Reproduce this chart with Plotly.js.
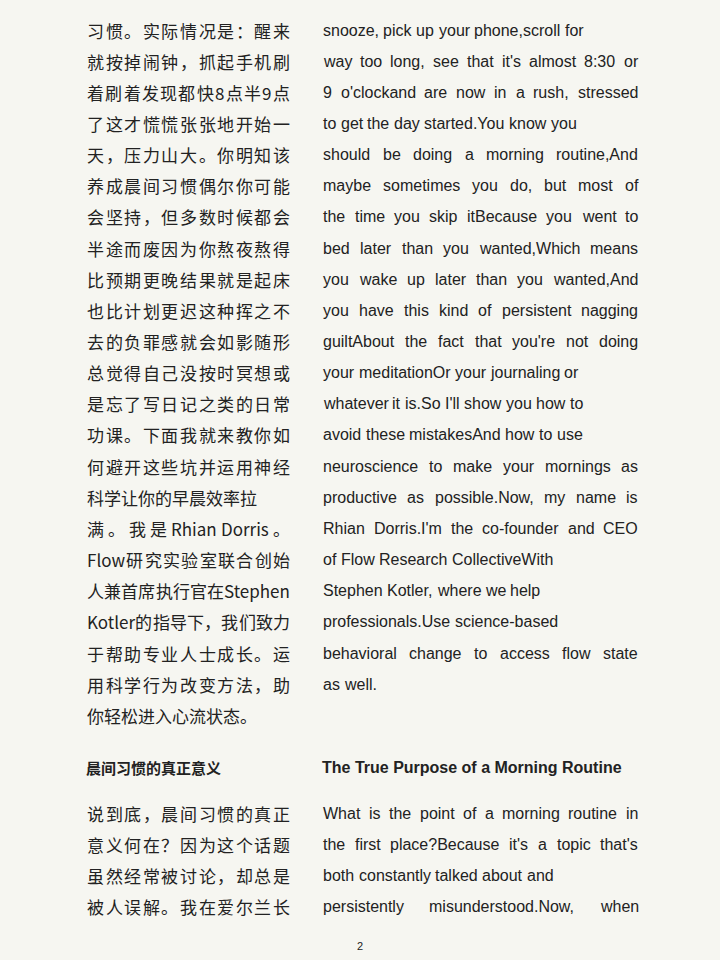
<!DOCTYPE html>
<html>
<head>
<meta charset="utf-8">
<script src="https://cdn.plot.ly/plotly-3.0.1.min.js"></script>
<style>html,body{margin:0;padding:0;background:#f6f6f1;}</style>
</head>
<body>
<div id="plot" style="width:720px;height:960px;"></div>
<script>
// ======================= DATA =======================
const zhBody = ['习惯。实际情况是：醒来','就按掉闹钟，抓起手机刷','着刷着发现都快8点半9点','了这才慌慌张张地开始一','天，压力山大。你明知该','养成晨间习惯偶尔你可能','会坚持，但多数时候都会','半途而废因为你熬夜熬得','比预期更晚结果就是起床','也比计划更迟这种挥之不','去的负罪感就会如影随形','总觉得自己没按时冥想或','是忘了写日记之类的日常','功课。下面我就来教你如','何避开这些坑并运用神经','科学让你的早晨效率拉','满。我是Rhian Dorris。','Flow研究实验室联合创始','人兼首席执行官在Stephen','Kotler的指导下，我们致力','于帮助专业人士成长。运','用科学行为改变方法，助','你轻松进入心流状态。'];
const enBody = ['snooze, pick up your phone,scroll for','way too long, see that it\'s almost 8:30 or','9 o\'clockand are now in a rush, stressed','to get the day started.You know you','should be doing a morning routine,And','maybe sometimes you do, but most of','the time you skip itBecause you went to','bed later than you wanted,Which means','you wake up later than you wanted,And','you have this kind of persistent nagging','guiltAbout the fact that you\'re not doing','your meditationOr your journaling or','whatever it is.So I\'ll show you how to','avoid these mistakesAnd how to use','neuroscience to make your mornings as','productive as possible.Now, my name is','Rhian Dorris.I\'m the co-founder and CEO','of Flow Research CollectiveWith','Stephen Kotler, where we help','professionals.Use science-based','behavioral change to access flow state','as well.'];
const zhHead = '晨间习惯的真正意义';
const enHead = 'The True Purpose of a Morning Routine';
const zhTail = ['说到底，晨间习惯的真正','意义何在？因为这个话题','虽然经常被讨论，却总是','被人误解。我在爱尔兰长'];
const enTail = ['What is the point of a morning routine in','the first place?Because it\'s a topic that\'s','both constantly talked about and','persistently misunderstood.Now, when'];
const pageNo = '2';

// ======================= LAYOUT =======================
const zhFont = {family:'"Noto Sans CJK SC", sans-serif', size:17, color:'#222'};
const enFont = {family:'"Liberation Sans", Arial, sans-serif', size:16, color:'#222'};
const step = 31.15;
const ann = [];
const ctx = document.createElement('canvas').getContext('2d');
function measure(t, f){ ctx.font = f.size+'px '+f.family; return ctx.measureText(t).width; }

// split a line into pieces (words for english, chars + latin runs for chinese)
function tokens(t, zh){
  if(!zh) return t.split(' ').filter(s=>s.length);
  return t.match(/[A-Za-z0-9.]+|\S/g) || [];
}
function addLine(t, x, y, width, font, zh, justify){
  const toks = tokens(t, zh);
  const ws = toks.map(s=>measure(s, font));
  const total = ws.reduce((a,b)=>a+b,0);
  let gap = zh ? 0 : measure(' ', font);
  const natural = total + gap*(toks.length-1);
  if(justify && toks.length>1 && natural > width*0.85 && natural < width*1.05) gap = (width-total)/(toks.length-1);
  let cx = x;
  toks.forEach((s,i)=>{
    ann.push({text:s, x:cx, y:y, xref:'x', yref:'y', xanchor:'left', yanchor:'middle', showarrow:false, font:font});
    cx += ws[i] + gap;
  });
}
function addLines(lines, x, y0, width, font, zh, lastFree){
  lines.forEach((t,i)=>addLine(t, x, y0+i*step, width, font, zh, !(lastFree && i===lines.length-1)));
}
addLines(zhBody, 85, 30, 203, zhFont, true, true);
addLines(enBody, 321, 30, 315, enFont, false, true);
ann.push({text:'<b>'+zhHead+'</b>', x:84, y:767, xref:'x', yref:'y', xanchor:'left', yanchor:'middle', showarrow:false, font:Object.assign({},zhFont,{size:15})});
ann.push({text:'<b>'+enHead+'</b>', x:320, y:767, xref:'x', yref:'y', xanchor:'left', yanchor:'middle', showarrow:false, font:enFont});
addLines(zhTail, 85, 813, 203, zhFont, true, false);
addLines(enTail, 321, 813, 315, enFont, false, false);
ann.push({text:pageNo, x:360, y:946, xref:'x', yref:'y', xanchor:'center', yanchor:'middle', showarrow:false, font:Object.assign({},enFont,{size:11})});

Plotly.newPlot('plot', [], {
  width:720, height:960, margin:{t:0,r:0,l:0,b:0},
  paper_bgcolor:'#f6f6f1', plot_bgcolor:'#f6f6f1',
  xaxis:{range:[0,720], visible:false, fixedrange:true},
  yaxis:{range:[960,0], visible:false, fixedrange:true},
  annotations:ann, showlegend:false
}, {staticPlot:true});
</script>
</body>
</html>
